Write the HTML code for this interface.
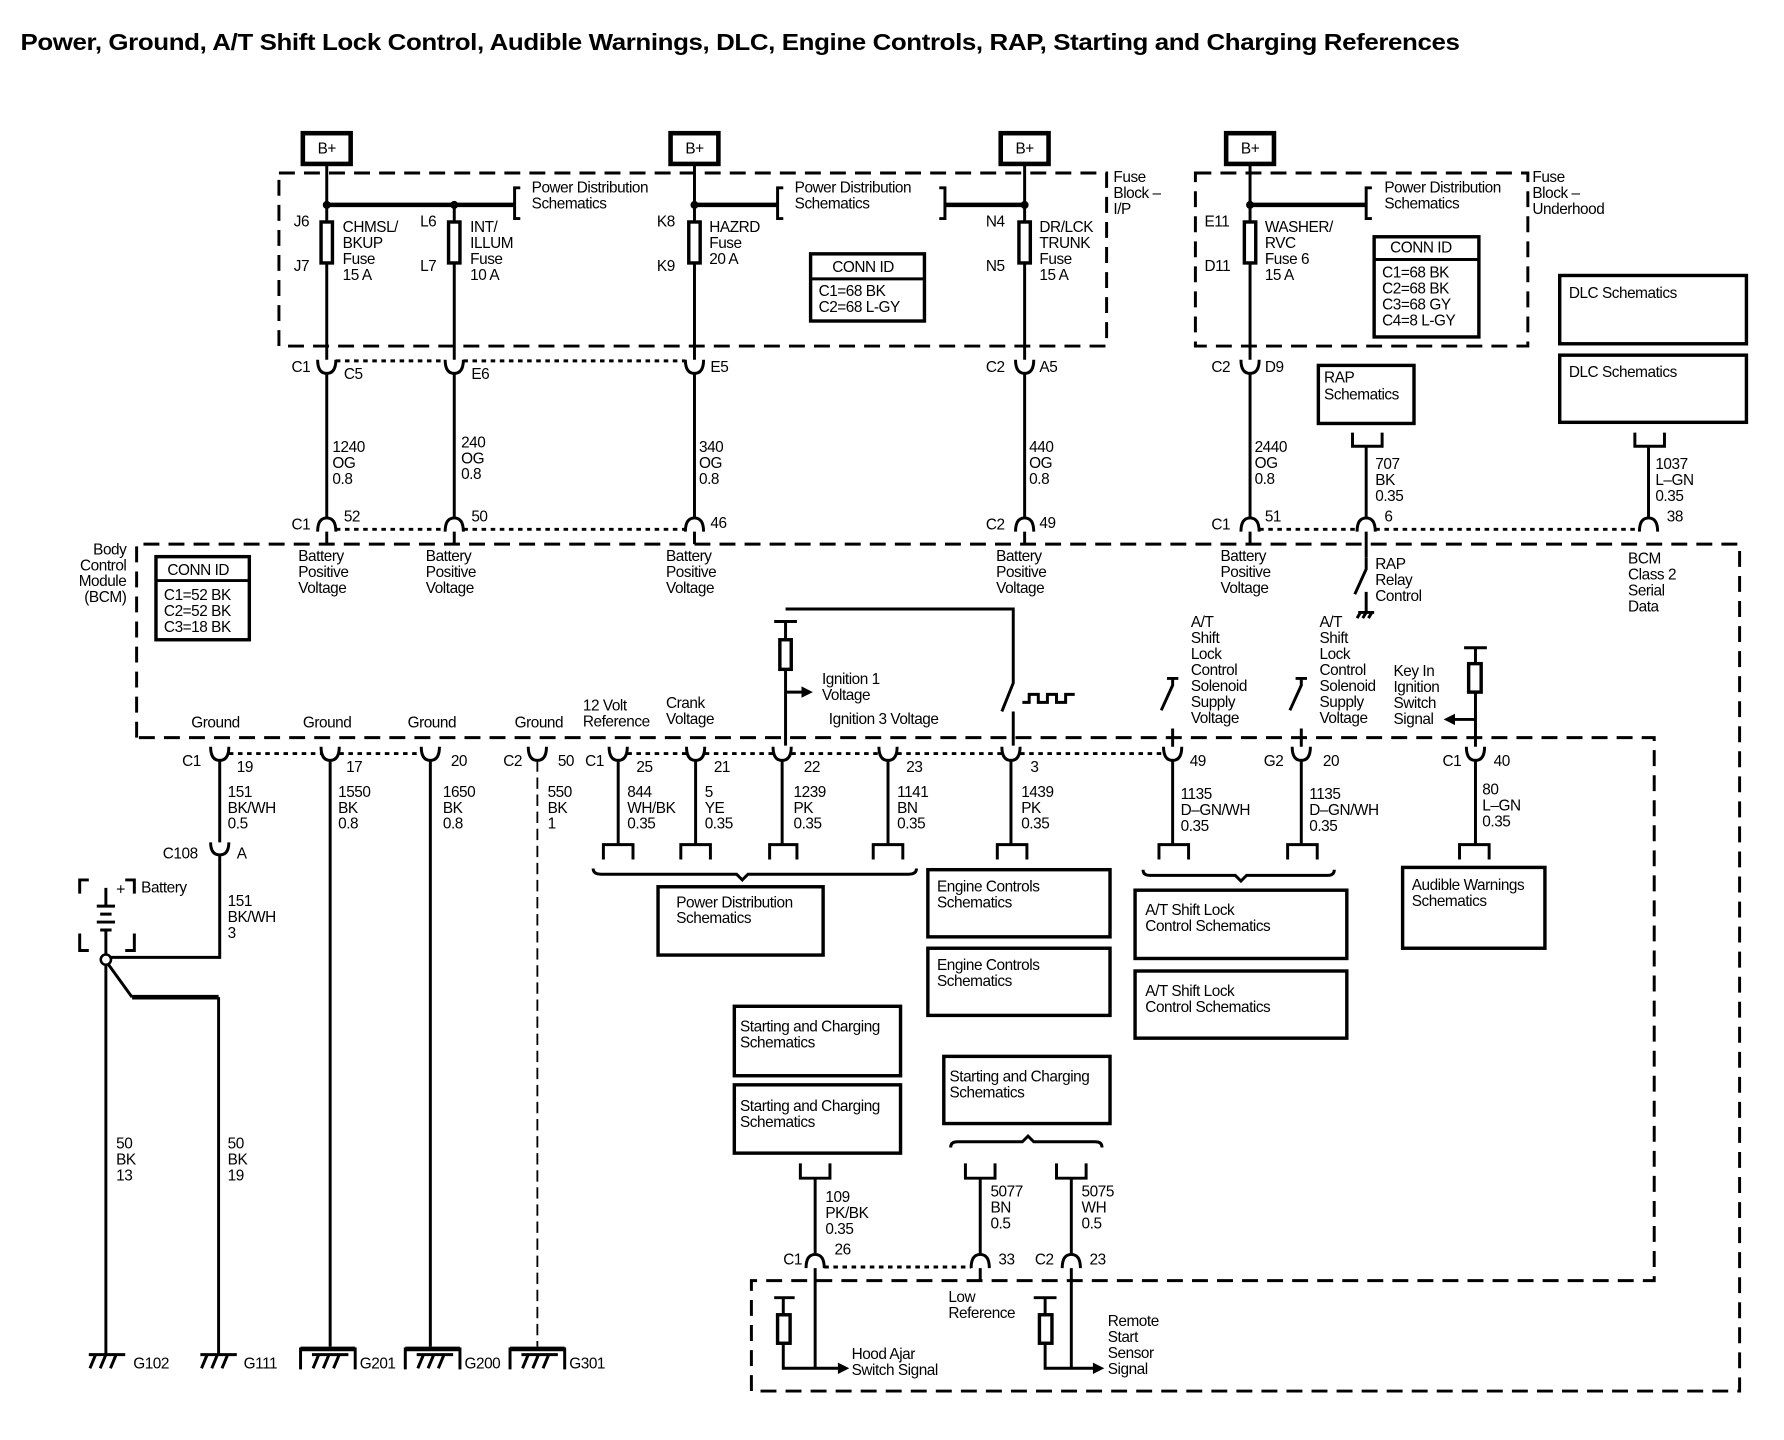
<!DOCTYPE html>
<html><head><meta charset="utf-8"><style>
html,body{margin:0;padding:0;background:#fff;}
svg{display:block}
text{font-family:"Liberation Sans",sans-serif;font-size:13.5px;fill:#000;letter-spacing:-0.4px}
.t{font-size:20px;font-weight:bold;letter-spacing:-0.3px}
.w{stroke:#000;stroke-width:2.6;fill:none}
.th{stroke:#000;stroke-width:4;fill:none}
.d{stroke:#000;stroke-width:2.6;fill:none;stroke-dasharray:14 8}
.dt{stroke:#000;stroke-width:2.6;fill:none;stroke-dasharray:4 4}
.b{stroke:#000;stroke-width:3;fill:#fff}
</style></head><body>
<svg width="1784" height="1440" viewBox="0 0 1567 1265" preserveAspectRatio="none" xmlns="http://www.w3.org/2000/svg">
<text x="18" y="44" class="t" textLength="1264" lengthAdjust="spacingAndGlyphs">Power, Ground, A/T Shift Lock Control, Audible Warnings, DLC, Engine Controls, RAP, Starting and Charging References</text>

<g>
<rect x="266" y="117" width="42" height="27" class="th"/><text x="279" y="135">B+</text>
<rect x="589" y="117" width="42" height="27" class="th"/><text x="602" y="135">B+</text>
<rect x="879" y="117" width="42" height="27" class="th"/><text x="892" y="135">B+</text>
<rect x="1077" y="117" width="42" height="27" class="th"/><text x="1090" y="135">B+</text>
</g>

<rect x="245" y="152" width="727" height="152" class="d"/>
<text x="978" y="160">Fuse</text><text x="978" y="174">Block –</text><text x="978" y="188">I/P</text>
<rect x="1050" y="152" width="292" height="152" class="d"/>
<text x="1346" y="160">Fuse</text><text x="1346" y="174">Block –</text><text x="1346" y="188">Underhood</text>

<path class="w" d="M287 145V316 M399 180V316 M610 145V316 M900 145V316 M1098 145V316"/>
<path class="w" d="M287 328V455 M399 328V455 M610 328V455 M900 328V455 M1098 328V455 M1200 392V455 M1448 392V455"/>
<path class="w" d="M287 467V478 M399 467V478 M610 467V478 M900 467V478 M1098 467V478 M1200 467V490"/>
<path class="th" d="M287 180H452 M610 180H683 M830 180H900 M1098 180H1200"/>
<path class="w" d="M457 165H452V192H457 M688 165H683V192H688 M825 165H830V192H825 M1205 165H1200V192H1205"/>
<g fill="#000"><circle cx="287" cy="180" r="3.5"/><circle cx="399" cy="180" r="3.5"/><circle cx="610" cy="180" r="3.5"/><circle cx="900" cy="180" r="3.5"/><circle cx="1098" cy="180" r="3.5"/></g>
<text x="467" y="169">Power Distribution</text><text x="467" y="183">Schematics</text>
<text x="698" y="169">Power Distribution</text><text x="698" y="183">Schematics</text>
<text x="1216" y="169">Power Distribution</text><text x="1216" y="183">Schematics</text>

<g class="b"><rect x="282" y="195" width="10" height="36"/><rect x="394" y="195" width="10" height="36"/><rect x="605" y="195" width="10" height="36"/><rect x="895" y="195" width="10" height="36"/><rect x="1093" y="195" width="10" height="36"/></g>
<text x="258" y="199">J6</text><text x="258" y="238">J7</text>
<text x="301" y="204">CHMSL/</text><text x="301" y="218">BKUP</text><text x="301" y="232">Fuse</text><text x="301" y="246">15 A</text>
<text x="369" y="199">L6</text><text x="369" y="238">L7</text>
<text x="413" y="204">INT/</text><text x="413" y="218">ILLUM</text><text x="413" y="232">Fuse</text><text x="413" y="246">10 A</text>
<text x="577" y="199">K8</text><text x="577" y="238">K9</text>
<text x="623" y="204">HAZRD</text><text x="623" y="218">Fuse</text><text x="623" y="232">20 A</text>
<text x="866" y="199">N4</text><text x="866" y="238">N5</text>
<text x="913" y="204">DR/LCK</text><text x="913" y="218">TRUNK</text><text x="913" y="232">Fuse</text><text x="913" y="246">15 A</text>
<text x="1058" y="199">E11</text><text x="1058" y="238">D11</text>
<text x="1111" y="204">WASHER/</text><text x="1111" y="218">RVC</text><text x="1111" y="232">Fuse 6</text><text x="1111" y="246">15 A</text>

<rect x="712" y="223" width="100" height="59" class="b"/><path class="w" d="M712 245H812"/>
<text x="731" y="239">CONN ID</text><text x="719" y="260">C1=68 BK</text><text x="719" y="274">C2=68 L-GY</text>
<rect x="1207" y="208" width="92" height="88" class="b"/><path class="w" d="M1207 228H1299"/>
<text x="1221" y="222">CONN ID</text><text x="1214" y="244">C1=68 BK</text><text x="1214" y="258">C2=68 BK</text><text x="1214" y="272">C3=68 GY</text><text x="1214" y="286">C4=8 L-GY</text>

<g class="w">
<path d="M279 316Q279 328 287 328Q295 328 295 316"/><path d="M391 316Q391 328 399 328Q407 328 407 316"/>
<path d="M602 316Q602 328 610 328Q618 328 618 316"/><path d="M892 316Q892 328 900 328Q908 328 908 316"/>
<path d="M1090 316Q1090 328 1098 328Q1106 328 1106 316"/>
</g>
<path class="dt" d="M295 317H391 M407 317H602"/>
<text x="256" y="327">C1</text><text x="302" y="333">C5</text><text x="414" y="333">E6</text><text x="624" y="327">E5</text>
<text x="866" y="327">C2</text><text x="913" y="327">A5</text><text x="1064" y="327">C2</text><text x="1111" y="327">D9</text>

<text x="292" y="397">1240</text><text x="292" y="411">OG</text><text x="292" y="425">0.8</text>
<text x="405" y="393">240</text><text x="405" y="407">OG</text><text x="405" y="421">0.8</text>
<text x="614" y="397">340</text><text x="614" y="411">OG</text><text x="614" y="425">0.8</text>
<text x="904" y="397">440</text><text x="904" y="411">OG</text><text x="904" y="425">0.8</text>
<text x="1102" y="397">2440</text><text x="1102" y="411">OG</text><text x="1102" y="425">0.8</text>
<text x="1208" y="412">707</text><text x="1208" y="426">BK</text><text x="1208" y="440">0.35</text>
<text x="1454" y="412">1037</text><text x="1454" y="426">L–GN</text><text x="1454" y="440">0.35</text>

<rect x="1158" y="321" width="84" height="51" class="b"/><text x="1163" y="336">RAP</text><text x="1163" y="351">Schematics</text>
<rect x="1370" y="242" width="164" height="60" class="b"/><text x="1378" y="262">DLC Schematics</text>
<rect x="1370" y="312" width="164" height="59" class="b"/><text x="1378" y="331">DLC Schematics</text>
<path class="w" d="M1188 380V392H1214V380 M1436 380V392H1462V380"/>

<g class="w">
<path d="M279 467Q279 455 287 455Q295 455 295 467"/><path d="M391 467Q391 455 399 455Q407 455 407 467"/>
<path d="M602 467Q602 455 610 455Q618 455 618 467"/><path d="M892 467Q892 455 900 455Q908 455 908 467"/>
<path d="M1090 467Q1090 455 1098 455Q1106 455 1106 467"/><path d="M1192 467Q1192 455 1200 455Q1208 455 1208 467"/>
<path d="M1440 467Q1440 455 1448 455Q1456 455 1456 467"/>
</g>
<path class="dt" d="M295 465H391 M407 465H602 M1106 465H1192 M1208 465H1440"/>
<text x="256" y="465">C1</text><text x="302" y="458">52</text><text x="414" y="458">50</text><text x="624" y="464">46</text>
<text x="866" y="465">C2</text><text x="913" y="464">49</text><text x="1064" y="465">C1</text><text x="1111" y="458">51</text>
<text x="1216" y="458">6</text><text x="1464" y="458">38</text>

<path class="d" d="M120 648V478H1528V1222H660V1125H1453V648H120"/>
<text x="111" y="487" text-anchor="end">Body</text><text x="111" y="501" text-anchor="end">Control</text><text x="111" y="515" text-anchor="end">Module</text><text x="111" y="529" text-anchor="end">(BCM)</text>
<rect x="137" y="489" width="82" height="73" class="b"/><path class="w" d="M137 510H219"/>
<text x="147" y="505">CONN ID</text><text x="144" y="527">C1=52 BK</text><text x="144" y="541">C2=52 BK</text><text x="144" y="555">C3=18 BK</text>

<g>
<text x="262" y="493">Battery</text><text x="262" y="507">Positive</text><text x="262" y="521">Voltage</text>
<text x="374" y="493">Battery</text><text x="374" y="507">Positive</text><text x="374" y="521">Voltage</text>
<text x="585" y="493">Battery</text><text x="585" y="507">Positive</text><text x="585" y="521">Voltage</text>
<text x="875" y="493">Battery</text><text x="875" y="507">Positive</text><text x="875" y="521">Voltage</text>
<text x="1072" y="493">Battery</text><text x="1072" y="507">Positive</text><text x="1072" y="521">Voltage</text>
</g>
<text x="1208" y="500">RAP</text><text x="1208" y="514">Relay</text><text x="1208" y="528">Control</text>
<path class="w" d="M1200 490V500L1190 522 M1200 520V538 M1193 538H1207 M1195 538L1192 543 M1200 538L1197 543 M1205 538L1202 543"/>
<text x="1430" y="495">BCM</text><text x="1430" y="509">Class 2</text><text x="1430" y="523">Serial</text><text x="1430" y="537">Data</text>

<path class="w" d="M690 545V655 M680 546H700 M690 535H890V600L880 625 M890 625V655"/>
<rect x="685" y="562" width="10" height="26" class="b"/>
<path class="w" d="M690 608H706"/><path d="M704 603L714 608L704 613Z" fill="#000"/>
<text x="722" y="601">Ignition 1</text><text x="722" y="615">Voltage</text>
<path class="w" d="M898 617H904V610H912V617H920V610H928V617H936V610H944"/>
<text x="728" y="636">Ignition 3 Voltage</text>

<text x="168" y="639">Ground</text><text x="266" y="639">Ground</text><text x="358" y="639">Ground</text><text x="452" y="639">Ground</text>
<text x="512" y="624">12 Volt</text><text x="512" y="638">Reference</text>
<text x="585" y="622">Crank</text><text x="585" y="636">Voltage</text>

<g><text x="1046" y="551">A/T</text><text x="1046" y="565">Shift</text><text x="1046" y="579">Lock</text><text x="1046" y="593">Control</text><text x="1046" y="607">Solenoid</text><text x="1046" y="621">Supply</text><text x="1046" y="635">Voltage</text></g>
<g><text x="1159" y="551">A/T</text><text x="1159" y="565">Shift</text><text x="1159" y="579">Lock</text><text x="1159" y="593">Control</text><text x="1159" y="607">Solenoid</text><text x="1159" y="621">Supply</text><text x="1159" y="635">Voltage</text></g>
<path class="w" d="M1025 596H1035 M1030 596V602L1020 624 M1030 640V656 M1138 596H1148 M1143 596V602L1133 624 M1143 640V656"/>
<text x="1224" y="594">Key In</text><text x="1224" y="608">Ignition</text><text x="1224" y="622">Switch</text><text x="1224" y="636">Signal</text>
<path class="w" d="M1286 569H1306 M1296 569V656 M1296 632H1276"/>
<rect x="1290" y="583" width="11" height="25" class="b"/>
<path d="M1278 627L1268 632L1278 637Z" fill="#000"/>

<g class="w">
<path d="M185 656Q185 668 193 668Q201 668 201 656"/><path d="M282 656Q282 668 290 668Q298 668 298 656"/>
<path d="M370 656Q370 668 378 668Q386 668 386 656"/><path d="M464 656Q464 668 472 668Q480 668 480 656"/>
<path d="M535 656Q535 668 543 668Q551 668 551 656"/><path d="M603 656Q603 668 611 668Q619 668 619 656"/>
<path d="M679 656Q679 668 687 668Q695 668 695 656"/><path d="M772 656Q772 668 780 668Q788 668 788 656"/>
<path d="M880 656Q880 668 888 668Q896 668 896 656"/><path d="M1022 656Q1022 668 1030 668Q1038 668 1038 656"/>
<path d="M1135 656Q1135 668 1143 668Q1151 668 1151 656"/><path d="M1288 656Q1288 668 1296 668Q1304 668 1304 656"/>
</g>
<path class="dt" d="M201 662H282 M298 662H370 M551 662H603 M619 662H679 M695 662H772 M788 662H880 M896 662H1022"/>
<text x="160" y="673">C1</text><text x="208" y="678">19</text><text x="304" y="678">17</text><text x="396" y="673">20</text>
<text x="442" y="673">C2</text><text x="490" y="673">50</text><text x="514" y="673">C1</text><text x="559" y="678">25</text>
<text x="627" y="678">21</text><text x="706" y="678">22</text><text x="796" y="678">23</text><text x="905" y="678">3</text>
<text x="1045" y="673">49</text><text x="1110" y="673">G2</text><text x="1162" y="673">20</text>
<text x="1267" y="673">C1</text><text x="1312" y="673">40</text>

<path class="w" d="M193 668V740 M290 668V1183 M378 668V1183 M543 668V742 M611 668V742 M687 668V742 M780 668V742 M888 668V742 M1030 668V742 M1143 668V742 M1296 668V742"/>
<path stroke="#000" stroke-width="1.6" stroke-dasharray="10 5" d="M472 668V1183"/>

<text x="200" y="700">151</text><text x="200" y="714">BK/WH</text><text x="200" y="728">0.5</text>
<text x="297" y="700">1550</text><text x="297" y="714">BK</text><text x="297" y="728">0.8</text>
<text x="389" y="700">1650</text><text x="389" y="714">BK</text><text x="389" y="728">0.8</text>
<text x="481" y="700">550</text><text x="481" y="714">BK</text><text x="481" y="728">1</text>
<text x="551" y="700">844</text><text x="551" y="714">WH/BK</text><text x="551" y="728">0.35</text>
<text x="619" y="700">5</text><text x="619" y="714">YE</text><text x="619" y="728">0.35</text>
<text x="697" y="700">1239</text><text x="697" y="714">PK</text><text x="697" y="728">0.35</text>
<text x="788" y="700">1141</text><text x="788" y="714">BN</text><text x="788" y="728">0.35</text>
<text x="897" y="700">1439</text><text x="897" y="714">PK</text><text x="897" y="728">0.35</text>
<text x="1037" y="702">1135</text><text x="1037" y="716">D–GN/WH</text><text x="1037" y="730">0.35</text>
<text x="1150" y="702">1135</text><text x="1150" y="716">D–GN/WH</text><text x="1150" y="730">0.35</text>
<text x="1302" y="698">80</text><text x="1302" y="712">L–GN</text><text x="1302" y="726">0.35</text>

<path class="w" d="M530 755V742H556V755 M598 755V742H624V755 M676 755V742H700V755 M767 755V742H793V755 M876 755V742H902V755 M1018 755V742H1044V755 M1131 755V742H1157V755 M1282 755V742H1308V755"/>
<path class="w" d="M521 763Q521 768 528 768H647L652 773L657 768H798Q805 768 805 763"/>
<path class="w" d="M1004 764Q1004 769 1010 769H1085L1090 774L1095 769H1166Q1172 769 1172 764"/>

<rect x="578" y="779" width="145" height="60" class="b"/><text x="594" y="797">Power Distribution</text><text x="594" y="811">Schematics</text>
<rect x="815" y="764" width="160" height="59" class="b"/><text x="823" y="783">Engine Controls</text><text x="823" y="797">Schematics</text>
<rect x="815" y="833" width="160" height="59" class="b"/><text x="823" y="852">Engine Controls</text><text x="823" y="866">Schematics</text>
<rect x="997" y="782" width="186" height="60" class="b"/><text x="1006" y="804">A/T Shift Lock</text><text x="1006" y="818">Control Schematics</text>
<rect x="997" y="853" width="186" height="59" class="b"/><text x="1006" y="875">A/T Shift Lock</text><text x="1006" y="889">Control Schematics</text>
<rect x="1232" y="762" width="125" height="71" class="b"/><text x="1240" y="782">Audible Warnings</text><text x="1240" y="796">Schematics</text>
<rect x="645" y="884" width="146" height="61" class="b"/><text x="650" y="906">Starting and Charging</text><text x="650" y="920">Schematics</text>
<rect x="645" y="953" width="146" height="60" class="b"/><text x="650" y="976">Starting and Charging</text><text x="650" y="990">Schematics</text>
<rect x="829" y="928" width="146" height="59" class="b"/><text x="834" y="950">Starting and Charging</text><text x="834" y="964">Schematics</text>
<path class="w" d="M835 1008Q835 1003 841 1003H898L903 998L908 1003H962Q968 1003 968 1008"/>

<path class="w" d="M703 1022V1035H729V1022 M848 1022V1035H874V1022 M928 1022V1035H954V1022"/>
<path class="w" d="M716 1035V1102 M861 1035V1102 M941 1035V1102"/>
<text x="725" y="1056">109</text><text x="725" y="1070">PK/BK</text><text x="725" y="1084">0.35</text>
<text x="870" y="1051">5077</text><text x="870" y="1065">BN</text><text x="870" y="1079">0.5</text>
<text x="950" y="1051">5075</text><text x="950" y="1065">WH</text><text x="950" y="1079">0.5</text>
<g class="w">
<path d="M708 1114Q708 1102 716 1102Q724 1102 724 1114"/><path d="M853 1114Q853 1102 861 1102Q869 1102 869 1114"/>
<path d="M933 1114Q933 1102 941 1102Q949 1102 949 1114"/>
</g>
<path class="dt" d="M724 1113H853"/>
<text x="688" y="1111">C1</text><text x="733" y="1102">26</text><text x="877" y="1111">33</text><text x="909" y="1111">C2</text><text x="957" y="1111">23</text>
<path class="w" d="M716 1114V1202 M861 1114V1125 M941 1114V1202"/>
<path class="w" d="M680 1140H698 M688 1140V1202H738 M908 1140H928 M918 1140V1202H962"/>
<rect x="683" y="1155" width="11" height="25" class="b"/><rect x="913" y="1155" width="11" height="25" class="b"/>
<path d="M736 1197L746 1202L736 1207Z M960 1197L970 1202L960 1207Z" fill="#000"/>
<text x="748" y="1194">Hood Ajar</text><text x="748" y="1208">Switch Signal</text>
<text x="833" y="1144">Low</text><text x="833" y="1158">Reference</text>
<text x="973" y="1165">Remote</text><text x="973" y="1179">Start</text><text x="973" y="1193">Sensor</text><text x="973" y="1207">Signal</text>

<path class="w" d="M185 740Q185 751 193 751Q201 751 201 740 M193 751V841H96"/>
<text x="143" y="754">C108</text><text x="208" y="754">A</text>
<text x="200" y="796">151</text><text x="200" y="810">BK/WH</text><text x="200" y="824">3</text>
<path class="w" d="M70 785V773H78 M110 773H118V785 M70 820V835H78 M110 835H118V820"/>
<path class="w" d="M93 780V795 M85 796H101 M88 803H98 M85 810H101 M88 817H98 M93 818V838"/>
<text x="102" y="786" style="font-size:14px">+</text>
<text x="124" y="784">Battery</text>
<circle cx="93" cy="843" r="4.5" fill="#fff" stroke="#000" stroke-width="2.2"/>
<path class="w" d="M93 848V1190 M95 847L116 876"/>
<path class="th" d="M116 876H192"/><path class="w" d="M192 876V1190"/>
<text x="102" y="1009">50</text><text x="102" y="1023">BK</text><text x="102" y="1037">13</text>
<text x="200" y="1009">50</text><text x="200" y="1023">BK</text><text x="200" y="1037">19</text>
<path class="w" d="M78 1190H110 M84 1190L79 1202 M93 1190L88 1202 M102 1190L97 1202"/>
<path class="w" d="M176 1190H208 M182 1190L177 1202 M191 1190L186 1202 M200 1190L195 1202"/>
<text x="117" y="1202">G102</text><text x="214" y="1202">G111</text>
<g>
<path class="w" d="M264 1203V1185H312V1203"/><path class="th" d="M264 1185H312"/><path class="w" d="M274 1190H306 M280 1190L275 1202 M289 1190L284 1202 M298 1190L293 1202"/>
<path class="w" d="M356 1203V1185H404V1203"/><path class="th" d="M356 1185H404"/><path class="w" d="M366 1190H398 M372 1190L367 1202 M381 1190L376 1202 M390 1190L385 1202"/>
<path class="w" d="M448 1203V1185H496V1203"/><path class="th" d="M448 1185H496"/><path class="w" d="M458 1190H490 M464 1190L459 1202 M473 1190L468 1202 M482 1190L477 1202"/>
</g>
<text x="316" y="1202">G201</text><text x="408" y="1202">G200</text><text x="500" y="1202">G301</text>
</svg>
</body></html>
